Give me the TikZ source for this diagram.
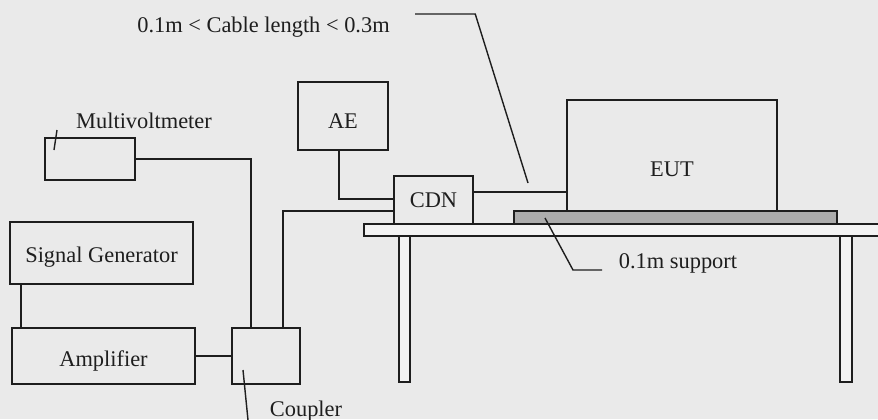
\documentclass[tikz,border=0pt]{standalone}
\usepackage{fontspec}
\setmainfont{Liberation Serif}
\usetikzlibrary{positioning,calc}
\definecolor{bgGray}{RGB}{234,234,234}
\definecolor{inkGray}{RGB}{30,30,30}
\definecolor{supGray}{RGB}{172,172,172}
\definecolor{tabGray}{RGB}{243,243,243}

\begin{document}
\begin{tikzpicture}[x=0.5pt, y=-0.5pt, line width=0.9pt, draw=inkGray,
    every node/.style={font=\fontsize{11.2}{13}\selectfont, text=inkGray},
    unit/.style={draw=inkGray, rectangle, inner sep=0pt, text height=7.4pt, text depth=0pt}]
    % page and background
    \useasboundingbox (0,0) rectangle (878,419);
    \clip (0,0) rectangle (878,419);
    \fill[bgGray] (0,0) rectangle (878,419);
    % table: top and legs
    \draw[fill=tabGray] (364,224) rectangle (890,236);
    \draw[fill=tabGray] (399,236) rectangle (410,382);
    \draw[fill=tabGray] (840,236) rectangle (852,382);
    % 0.1m support and the EUT on it
    \node[unit, fill=supGray, text height=0pt, minimum width=161.5pt, minimum height=6.5pt] (sup) at (675.5,217.5) {};
    \node[unit, minimum width=105pt, minimum height=55.5pt,
          label={[yshift=-7pt]center:EUT}] (eut) at (672,155.5) {};
    % units on the table and beside it
    \node[unit, minimum width=39.5pt, minimum height=24pt] (cdn) at (433.5,200) {CDN};
    \node[unit, minimum width=45pt, minimum height=34pt, text height=12.4pt] (ae) at (343,116) {AE};
    \node[unit, minimum width=45pt, minimum height=21pt] (mvm) at (90,159) {};
    \node[unit, minimum width=91.5pt, minimum height=31pt, text height=9.9pt] (sig) at (101.5,253) {Signal Generator};
    \node[unit, minimum width=91.5pt, minimum height=28pt, text height=10.4pt] (amp) at (103.5,356) {Amplifier};
    \node[unit, minimum width=34pt, minimum height=28pt] (cpl) at (266,356) {};
    % cables
    \draw (mvm.east) -| ([xshift=-7.5pt]cpl.north);
    \draw ([xshift=-2pt]ae.south) |- ([yshift=0.5pt]cdn.west);
    \draw ([xshift=8.5pt]cpl.north) |- ([yshift=-5.5pt]cdn.west);
    \draw ([yshift=4pt]cdn.east) -- ([yshift=4pt]cdn.east -| eut.west);
    \draw ([xshift=6pt]sig.south west) -- ([xshift=6pt]sig.south west |- amp.north);
    \draw (amp.east) -- (cpl.west);
    % texts and their leaders
    \node (cab) at (263.5,27) {0.1m < Cable length < 0.3m};
    \coordinate (cabtip) at (528,183);
    \draw[line width=0.7pt] ([xshift=9pt,yshift=6.5pt]cab.east) -- ++(60,0) -- (cabtip);
    \node (mvmtxt) at (144,121) {Multivoltmeter};
    \coordinate (mvmtip) at (54,150);
    \draw[line width=0.7pt] (mvmtip) -- ++(3,-20);
    \node (suptxt) at (678,263) {0.1m support};
    \coordinate (suptip) at (545,218);
    \draw[line width=0.7pt] (suptip) -- ++(28,52) -- ++(29,0);
    \node (cpltxt) at (306,411) {Coupler};
    \coordinate (cpltip) at (243,370);
    \draw[line width=0.7pt] (cpltip) -- ++(5,50);
\end{tikzpicture}
\end{document}
